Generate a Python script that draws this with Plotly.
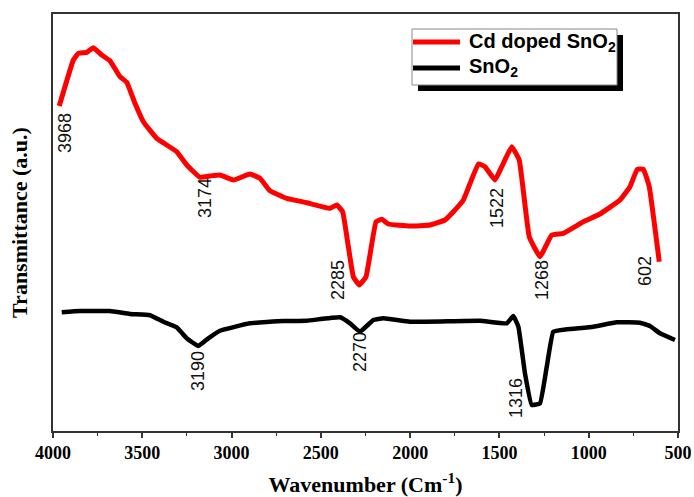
import plotly.graph_objects as go

# Red: Cd doped SnO2
red_w = [3965, 3886, 3858, 3811, 3774, 3727, 3681, 3625, 3587, 3541, 3494, 3419, 3307, 3251,
         3177, 3121, 3065, 2990, 2897, 2841, 2785, 2691, 2579, 2449, 2411, 2378, 2346, 2318,
         2285, 2247, 2191, 2159, 2122, 2001, 1889, 1805, 1758, 1702, 1618, 1581, 1525, 1487,
         1431, 1389, 1333, 1273, 1207, 1142, 1030, 937, 825, 769, 728, 694, 661, 605]
red_t = [325, 371, 377.7, 378.7, 383.3, 376, 370.3, 354.3, 348.7, 327.7, 309.3, 292.7, 279.3, 266,
         253.7, 255, 256, 251, 257, 252.7, 240.3, 232.7, 228.3, 222.7, 226, 219.3, 184.3, 154.3,
         146, 154.3, 209.3, 211.7, 207, 205, 206, 211, 219.3, 231, 267, 264.3, 251, 264.3,
         284.3, 271, 194.3, 174.3, 196, 197.7, 209.3, 217, 231, 244.3, 261.7, 261.7, 244.3, 169.3]

# Black: SnO2
blk_w = [3951, 3849, 3681, 3569, 3457, 3382, 3307, 3251, 3186, 3130, 3065, 2897, 2710, 2579,
         2393, 2337, 2281, 2206, 2150, 2001, 1609, 1459, 1422, 1394, 1357, 1319, 1273, 1235,
         1198, 1123, 974, 843, 713, 657, 601, 517]
blk_t = [118.7, 120, 120, 117, 115.7, 109.3, 103.7, 92.7, 85, 92.7, 100.3, 107.7, 110, 110.3,
         113.7, 107.7, 99.3, 111, 112.7, 109.3, 110.3, 107.7, 115, 104.3, 57.7, 26, 27.7, 64.3,
         99.3, 101.7, 104.3, 108.7, 108.3, 105, 97.7, 91]

series_names = ["Cd doped SnO<sub>2</sub>", "SnO<sub>2</sub>"]
series_colors = ["#ff0000", "#000000"]

# Peak labels
lbl_text = ["3968", "3174", "2285", "1522", "1268", "602", "3190", "2270", "1316"]
lbl_x = [3933, 3149, 2404, 1514, 1262, 685, 3188, 2281, 1407]
lbl_y = [298, 233, 151, 223, 151, 160, 60, 79, 33]

tick_vals = [4000, 3500, 3000, 2500, 2000, 1500, 1000, 500]

# plot-area geometry (pixels) used only to place the boxed legend
L, R, T, B = 53, 678, 14, 431
def px(x):
    return (x - L) / (R - L)
def py(y):
    return (B - y) / (B - T)

fig = go.Figure()
fig.add_trace(go.Scatter(x=red_w, y=red_t, mode="lines", name=series_names[0],
                         line=dict(color=series_colors[0], width=5, shape="spline", smoothing=0.3)))
fig.add_trace(go.Scatter(x=blk_w, y=blk_t, mode="lines", name=series_names[1],
                         line=dict(color=series_colors[1], width=4.5, shape="spline", smoothing=0.3)))

for t, x, y in zip(lbl_text, lbl_x, lbl_y):
    fig.add_annotation(x=x, y=y, xref="x", yref="y", text=t, showarrow=False, textangle=-90,
                       font=dict(family="Liberation Sans, Arial", size=18, color="#111"))

# boxed legend with drop shadow
fig.add_shape(type="rect", xref="paper", yref="paper",
              x0=px(418), x1=px(623), y0=py(91), y1=py(35),
              fillcolor="black", line=dict(width=0), layer="above")
fig.add_shape(type="rect", xref="paper", yref="paper",
              x0=px(412), x1=px(617), y0=py(85), y1=py(29),
              fillcolor="white", line=dict(color="#888", width=1), layer="above")
for i, (nm, col) in enumerate(zip(series_names, series_colors)):
    yy = 42 + 26 * i
    fig.add_shape(type="line", xref="paper", yref="paper",
                  x0=px(413), x1=px(460), y0=py(yy), y1=py(yy),
                  line=dict(color=col, width=5), layer="above")
    fig.add_annotation(x=px(467), y=py(yy), xref="paper", yref="paper", text=nm,
                       showarrow=False, xanchor="left", yanchor="middle",
                       font=dict(family="Liberation Sans, Arial", size=20, color="black",
                                 weight="bold"))

fig.update_layout(
    width=694, height=497,
    margin=dict(l=L, r=694 - R, t=T, b=497 - B),
    plot_bgcolor="white", paper_bgcolor="white",
    showlegend=False,
    xaxis=dict(range=[4000, 500], tickvals=tick_vals, showgrid=False, zeroline=False,
               automargin=False,
               showline=True, linecolor="#333", linewidth=1.5, mirror=True,
               ticks="outside", ticklen=5, tickwidth=1.5, tickcolor="#333",
               minor=dict(dtick=250, ticks="outside", ticklen=3, tickwidth=1, tickcolor="#333"),
               tickfont=dict(family="Liberation Serif, Times New Roman", size=18, color="black",
                             weight="bold"),
               title=dict(text="Wavenumber (Cm<sup>-1</sup>)", standoff=17,
                          font=dict(family="Liberation Serif, Times New Roman", size=22,
                                    color="black", weight="bold"))),
    yaxis=dict(range=[0, 417], showgrid=False, zeroline=False, showticklabels=False,
               automargin=False,
               showline=True, linecolor="#333", linewidth=1.5, mirror=True, ticks="",
               title=dict(text="Transmittance (a.u.)", standoff=18,
                          font=dict(family="Liberation Serif, Times New Roman", size=22,
                                    color="black", weight="bold"))),
)

fig.write_html("out.html")
